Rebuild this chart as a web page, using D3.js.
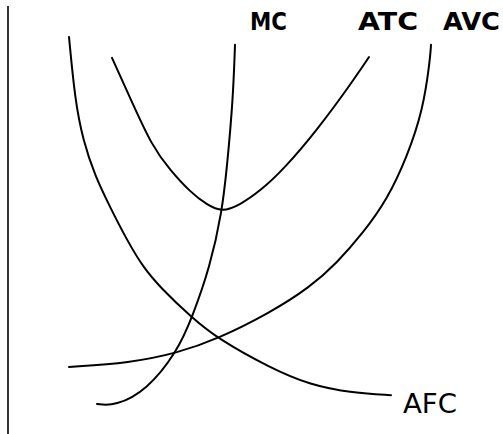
<!DOCTYPE html>
<html>
<head>
<meta charset="utf-8">
<script src="https://cdn.jsdelivr.net/npm/d3@7"></script>
<style>
  html, body { margin: 0; padding: 0; background: #fff; }
  svg { display: block; }
</style>
</head>
<body>
<svg id="chart" width="503" height="434"></svg>
<script>
// Quantity (x) and cost (y) values, in a 0-100 unit space
const afcQ = [12.2, 13.4, 15.0, 17.4, 20.4, 23.8, 27.0, 30.4, 36.8, 42.0, 52.4, 60.4, 69.0, 76.6];
const afcC = [93.6, 78.6, 69.0, 60.5, 53.1, 45.2, 38.8, 34.0, 26.7, 21.7, 14.8, 10.7, 8.8, 8.3];

const atcQ = [20.8, 24.6, 28.8, 32.4, 36.4, 39.8, 42.8, 46.4, 50.4, 55.0, 61.8, 68.4, 72.2];
const atcC = [88.6, 78.6, 67.6, 61.9, 56.7, 53.6, 51.9, 53.6, 56.9, 61.9, 71.4, 82.1, 88.8];

const mcQ = [17.8, 21.4, 27.8, 33.8, 36.8, 40.4, 42.8, 43.8, 45.0, 45.4];
const mcC = [6.2, 5.7, 9.5, 18.6, 26.7, 38.8, 51.9, 62.6, 78.6, 91.7];

const avcQ = [12.2, 24.4, 33.8, 42.0, 52.4, 60.4, 65.8, 71.0, 75.8, 79.8, 83.0, 84.4, 84.6];
const avcC = [15.0, 16.0, 18.3, 21.7, 27.9, 34.0, 39.8, 46.9, 54.8, 65.0, 76.2, 88.1, 91.7];

const curveNames = ["MC", "ATC", "AVC", "AFC"];
const labelQ = [48.4, 70.0, 87.0, 79.0];
const labelC = [95.2, 95.2, 95.2, 4.0];

const svg = d3.select("#chart");
const x = d3.scaleLinear().domain([0, 100]).range([8, 508]);
const y = d3.scaleLinear().domain([0, 100]).range([430, 10]);

// vertical axis (cost axis) only
svg.append("line")
  .attr("x1", x(0)).attr("x2", x(0))
  .attr("y1", 6).attr("y2", 434)
  .attr("stroke", "#000").attr("stroke-width", 1.6);

const line = d3.line()
  .x(d => x(d[0]))
  .y(d => y(d[1]))
  .curve(d3.curveBasis);

const series = [
  d3.zip(mcQ, mcC),
  d3.zip(atcQ, atcC),
  d3.zip(avcQ, avcC),
  d3.zip(afcQ, afcC)
];

svg.selectAll("path.curve")
  .data(series)
  .enter().append("path")
  .attr("class", "curve")
  .attr("d", line)
  .attr("fill", "none")
  .attr("stroke", "#000")
  .attr("stroke-width", 2)
  .attr("stroke-linecap", "round");

const widths = [37, 60, 57, 54];
curveNames.forEach((name, i) => {
  svg.append("text")
    .attr("x", x(labelQ[i]))
    .attr("y", y(labelC[i]))
    .attr("font-family", "'DejaVu Sans', sans-serif")
    .attr("font-weight", name === "AFC" ? "normal" : "bold")
    .attr("font-size", name === "AFC" ? 26 : 24)
    .attr("fill", "#000")
    .attr("textLength", widths[i])
    .attr("lengthAdjust", "spacingAndGlyphs")
    .text(name);
});
</script>
</body>
</html>
